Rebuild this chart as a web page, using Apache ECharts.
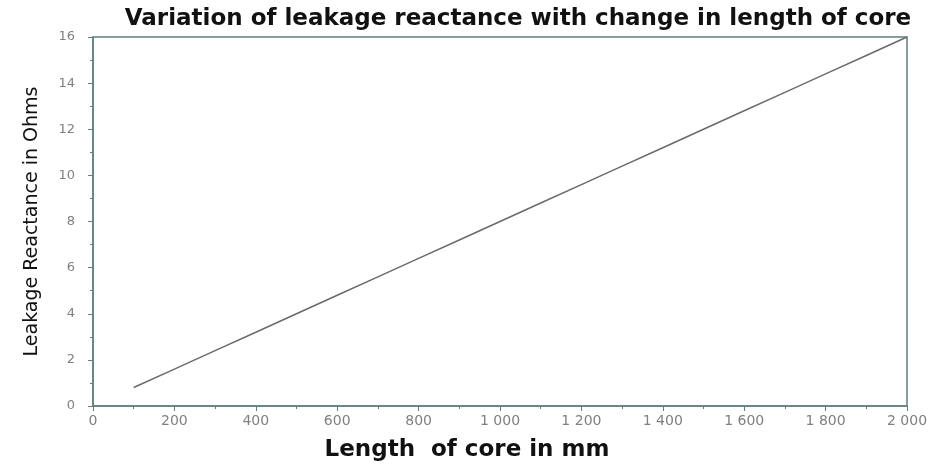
<!DOCTYPE html>
<html><head><meta charset="utf-8">
<script src="https://cdn.jsdelivr.net/npm/echarts@6/dist/echarts.min.js"></script>
<style>html,body{margin:0;padding:0;background:#fff}#c{width:939px;height:465px}</style>
</head><body><div id="c"></div>
<script>
const lengthMm = [100,200,300,400,500,600,700,800,900,1000,1100,1200,1300,1400,1500,1600,1700,1800,1900,2000];
const reactance = [0.8,1.6,2.4,3.2,4.0,4.8,5.6,6.4,7.2,8.0,8.8,9.6,10.4,11.2,12.0,12.8,13.6,14.4,15.2,16.0];
const titleText = 'Variation of leakage reactance with change in length of core';
const xName = 'Length  of core in mm';
const yName = 'Leakage Reactance in Ohms';

const chart = echarts.init(document.getElementById('c'));
const axisCol = '#627f7c';
const fmtX = v => v >= 1000 ? Math.floor(v/1000) + ' ' + String(v%1000).padStart(3,'0') : String(v);
chart.setOption({
  animation: false,
  backgroundColor: '#fff',
  title: { text: titleText, left: 513, textAlign: 'center', top: 3,
    textStyle: { fontFamily: 'DejaVu Sans', fontWeight: 'bold', fontSize: 23, color: '#111' } },
  grid: { left: 93, right: 32, top: 37, bottom: 59, show: true, borderColor: axisCol, borderWidth: 1.5,
    containLabel: false, outerBoundsMode: 'none' },
  xAxis: { type: 'value', min: 0, max: 2000, interval: 200,
    name: xName, nameLocation: 'middle', nameGap: 33,
    nameTextStyle: { fontFamily: 'DejaVu Sans', fontWeight: 'bold', fontSize: 23, color: '#111', padding: [0, 66, 0, 0] },
    axisLine: { lineStyle: { color: axisCol, width: 1.5 } },
    axisTick: { length: 5, lineStyle: { color: axisCol } },
    minorTick: { show: true, splitNumber: 2, length: 3, lineStyle: { color: axisCol } },
    splitLine: { show: false },
    axisLabel: { formatter: fmtX, color: '#808080', fontFamily: 'DejaVu Sans', fontSize: 14, margin: 8 } },
  yAxis: { type: 'value', min: 0, max: 16, interval: 2,
    name: yName, nameLocation: 'middle', nameGap: 51,
    nameTextStyle: { fontFamily: 'DejaVu Sans', fontSize: 19, color: '#111', padding: [0, 0, 0, 0] },
    axisLine: { show: true, lineStyle: { color: axisCol, width: 1.5 } },
    axisTick: { show: true, length: 5, lineStyle: { color: axisCol } },
    minorTick: { show: true, splitNumber: 2, length: 3, lineStyle: { color: axisCol } },
    splitLine: { show: false },
    axisLabel: { color: '#808080', fontFamily: 'DejaVu Sans', fontSize: 13, margin: 18 } },
  series: [{ type: 'line', data: lengthMm.map((x,i)=>[x, reactance[i]]), showSymbol: false,
    lineStyle: { color: '#6a6a6a', width: 1.5 } }]
});
</script></body></html>
